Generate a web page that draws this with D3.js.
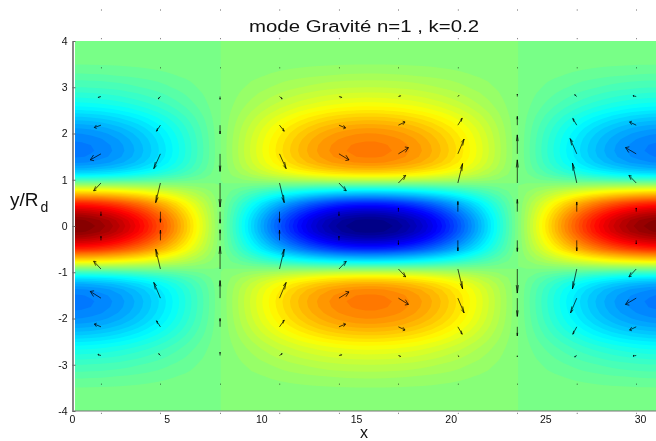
<!DOCTYPE html>
<html>
<head>
<meta charset="utf-8">
<script src="https://cdn.jsdelivr.net/npm/d3@7"></script>
<style>
  html, body { margin: 0; background: #fff; }
  svg { display: block; filter: blur(0.35px); }
  text { font-family: "Liberation Sans", Arial, sans-serif; fill: #111; }
  .tick text { font-size: 10.5px; }
</style>
</head>
<body>
<svg id="chart" width="656" height="441"></svg>
<script>
'use strict';

// field: along x (every 0.5) and across y (every 0.125, y >= 0, mirrored below)
var xShape = [1.000, .995, .980, .955, .921, .878, .825, .765, .697, .622, .540, .454, .362, .267, .170, .071,
  -.029, -.129, -.227, -.323, -.416, -.505, -.589, -.666, -.737, -.801, -.857, -.904, -.942, -.971, -.990, -.999,
  -.998, -.987, -.967, -.936, -.897, -.848, -.791, -.726, -.654, -.575, -.490, -.401, -.307, -.211, -.112, -.012,
  .087, .187, .284, .378, .469, .554, .635, .709, .776, .835, .886, .927, .960, .983, .996, 1.000, .993];
var yShape = [1.00, .98, .91, .81, .68, .49, .30, .08, -.13, -.30, -.41, -.475, -.505, -.515, -.51, -.495,
  -.47, -.435, -.39, -.34, -.285, -.235, -.195, -.16, -.125, -.10, -.07, -.05, -.03, -.02, -.012, -.006, -.003];

// quiver grid and arrow components, in axis units
var arrowX = [1.53, 4.67, 7.82, 10.96, 14.1, 17.24, 20.38, 23.52, 26.66, 29.8];
var arrowY = [4.67, 4.05, 3.42, 2.8, 2.18, 1.56, .93, .31, -.31, -.93, -1.56, -2.18, -2.8, -3.42, -4.05, -4.67];
var arrowU = [
  [.03, .03, .03, .03, .03, .03, .03, .03, .03, .03],
  [.03, .03, .03, .03, .03, .03, .03, .03, .03, .03],
  [.03, .03, .03, .03, .03, .03, .03, .03, .03, .03],
  [-.14, -.11, 0, .14, .14, .11, .05, 0, -.11, -.17],
  [-.35, -.21, 0, .25, .35, .35, .23, 0, -.21, -.35],
  [-.565, -.35, 0, .35, .53, .53, .33, 0, -.35, -.565],
  [-.385, -.25, 0, .25, .385, .385, .25, 0, -.23, -.385],
  [0, 0, 0, 0, 0, 0, 0, 0, 0, 0],
  [0, 0, 0, 0, 0, 0, 0, 0, 0, 0],
  [-.385, -.25, 0, .25, .385, .385, .25, 0, -.23, -.385],
  [-.565, -.35, 0, .35, .53, .53, .33, 0, -.33, -.565],
  [-.35, -.21, 0, .25, .35, .35, .23, 0, -.21, -.35],
  [-.16, -.09, 0, .14, .14, .11, .05, 0, -.11, -.17],
  [.03, .03, .03, .03, .03, .03, .03, .03, .03, .03],
  [.03, .03, .03, .03, .03, .03, .03, .03, .03, .03],
  [.03, .03, .03, .03, .03, .03, .03, .03, .03, .03]
];
var arrowV = [
  [0, 0, 0, 0, 0, 0, 0, 0, 0, 0],
  [0, 0, 0, 0, 0, 0, 0, 0, 0, 0],
  [0, 0, 0, 0, 0, 0, 0, 0, 0, 0],
  [-.02, -.05, -.06, -.05, -.02, .015, .02, .05, .04, .015],
  [-.05, -.13, -.19, -.13, -.06, .07, .15, .19, .145, .07],
  [-.13, -.32, -.38, -.32, -.13, .135, .32, .41, .33, .135],
  [-.17, -.425, -.52, -.425, -.17, .165, .42, .50, .43, .165],
  [-.086, -.23, -.25, -.23, -.086, .08, .22, .265, .21, .08],
  [.086, .22, .23, .22, .09, -.09, -.23, -.24, -.23, -.08],
  [.17, .43, .49, .43, .165, -.17, -.43, -.52, -.43, -.17],
  [.145, .34, .38, .34, .135, -.135, -.32, -.395, -.32, -.135],
  [.06, .13, .18, .145, .06, -.07, -.16, -.195, -.16, -.07],
  [.02, .04, .07, .04, .015, -.02, -.02, -.03, -.03, -.01],
  [0, 0, 0, 0, 0, 0, 0, 0, 0, 0],
  [0, 0, 0, 0, 0, 0, 0, 0, 0, 0],
  [0, 0, 0, 0, 0, 0, 0, 0, 0, 0]
];

var xTicks = [0, 5, 10, 15, 20, 25, 30];
var yTicks = [-4, -3, -2, -1, 0, 1, 2, 3, 4];

var svg = d3.select('#chart');
var x = d3.scaleLinear().domain([0, 30]).range([72, 640]);
var y = d3.scaleLinear().domain([-4, 4]).range([411, 41]);

// matlab jet
function jet(t) {
  function ramp(v) { return Math.round(255 * Math.max(0, Math.min(1, v))); }
  return d3.rgb(
    ramp(Math.min(4 * t - 1.5, -4 * t + 4.5)),
    ramp(Math.min(4 * t - 0.5, -4 * t + 3.5)),
    ramp(Math.min(4 * t + 0.5, -4 * t + 2.5))
  ).formatRgb();
}

// full grid, y from -4 to 4
var yColumn = yShape.slice(1).reverse().concat(yShape);
var nx = xShape.length, ny = yColumn.length;
var values = [];
yColumn.forEach(function(fy) {
  xShape.forEach(function(fx) { values.push(fx * fy); });
});

// 64 colour levels
var step = 2 / 64;
var levels = d3.range(-33, 33).map(function(k) { return k * step; });

var contours = d3.contours().size([nx, ny]).thresholds(levels)(values);

var project = d3.geoTransform({
  point: function(gx, gy) {
    this.stream.point(x((gx - 0.5) * 0.5), y(-4 + (gy - 0.5) * 0.125));
  }
});
var path = d3.geoPath(project);

svg.append('clipPath').attr('id', 'plot-clip')
  .append('rect')
  .attr('x', x(0.16))
  .attr('y', y(4))
  .attr('width', 656 - x(0.16))
  .attr('height', y(-4) - y(4));

svg.append('g')
  .attr('clip-path', 'url(#plot-clip)')
  .selectAll('path')
  .data(contours)
  .join('path')
    .attr('d', path)
    .attr('fill', function(d) { return jet((d.value + step / 2 + 1) / 2); });

// axes
var xAxis = d3.axisBottom(x).tickValues(xTicks).tickSize(0).tickPadding(5).tickFormat(String);
var yAxis = d3.axisLeft(y).tickValues(yTicks).tickSizeInner(-3).tickSizeOuter(0).tickPadding(5).tickFormat(String);

var gx = svg.append('g').attr('transform', 'translate(0,411)').call(xAxis);
gx.select('.domain').attr('d', 'M72,0H656').attr('stroke', '#777').attr('stroke-width', 1);
var gy = svg.append('g').attr('transform', 'translate(72.5,0)').call(yAxis);
gy.select('.domain').attr('stroke', '#888').attr('stroke-width', 2);
gy.selectAll('.tick line').attr('stroke', '#666');
svg.selectAll('.tick text').attr('fill', '#111').attr('font-family', null);

// quiver, barbs the way matlab does them, in data units
var alpha = 0.33, beta = 0.33;
var segments = [];
arrowY.forEach(function(ay, r) {
  arrowX.forEach(function(ax, c) {
    var u = arrowU[r][c], v = arrowV[r][c];
    var tx = ax + u, ty = ay + v;
    segments.push([[ax, ay], [tx, ty]]);
    segments.push([[tx - alpha * (u + beta * v), ty - alpha * (v - beta * u)], [tx, ty],
      [tx - alpha * (u - beta * v), ty - alpha * (v + beta * u)]]);
  });
});
var line = d3.line().x(function(d) { return x(d[0]); }).y(function(d) { return y(d[1]); });
svg.append('g')
  .selectAll('path')
  .data(segments)
  .join('path')
    .attr('d', line)
    .attr('fill', 'none')
    .attr('stroke', '#000')
    .attr('stroke-width', 0.7);

// labels
svg.append('text').attr('x', 249).attr('y', 32)
  .attr('font-size', 16)
  .attr('textLength', 230).attr('lengthAdjust', 'spacingAndGlyphs')
  .text('mode Gravité n=1 , k=0.2');
svg.append('text').attr('x', 364).attr('y', 438).attr('text-anchor', 'middle')
  .attr('font-size', 16).text('x');
var yLabel = svg.append('text').attr('x', 10).attr('y', 206).attr('font-size', 19);
yLabel.append('tspan').text('y/R');
yLabel.append('tspan').attr('font-size', 14).attr('dy', 6).attr('dx', 2).text('d');
</script>
</body>
</html>
